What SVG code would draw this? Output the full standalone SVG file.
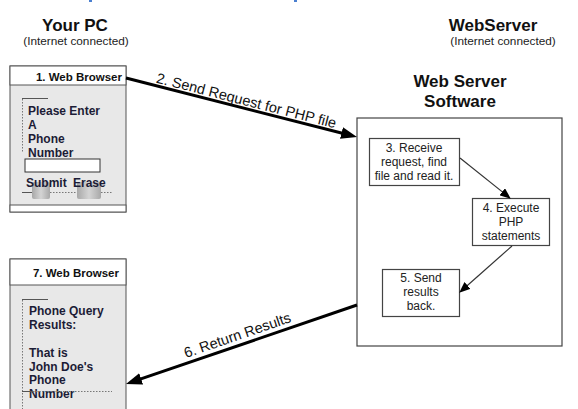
<svg xmlns="http://www.w3.org/2000/svg" width="578" height="409" viewBox="0 0 578 409">
<style>
.h{font-family:"Liberation Sans",Arial,sans-serif;font-weight:bold;fill:#111;}
.sub{font-family:"Liberation Sans",Arial,sans-serif;font-size:11.8px;fill:#222;}
.bt{font-family:"Liberation Sans",Arial,sans-serif;font-weight:bold;font-size:11.5px;fill:#111;}
.pg{font-family:"Liberation Sans",Arial,sans-serif;font-weight:bold;font-size:12px;fill:#1c1c36;}
.st{font-family:"Liberation Sans",Arial,sans-serif;font-size:12px;fill:#222;text-anchor:middle;}
.lbl{font-family:"Liberation Sans",Arial,sans-serif;font-size:14.5px;fill:#111;}
.frame{fill:#e8e8e8;stroke:#555;stroke-width:1;}
.strip{fill:#fff;stroke:#555;stroke-width:1;}
.dot{stroke:#777;stroke-width:1;stroke-dasharray:1.5 1.5;fill:none;}
.solid{stroke:#555;stroke-width:1;fill:none;}
.box{fill:#fff;stroke:#444;stroke-width:1.2;}
.thick{stroke:#000;stroke-width:3;fill:none;}
.thin{stroke:#333;stroke-width:1.2;fill:none;}
</style>
<defs>
<marker id="big" markerUnits="userSpaceOnUse" markerWidth="16" markerHeight="12" refX="8" refY="6" orient="auto">
<path d="M0,0 L16,6 L0,12 z" fill="#000"/>
</marker>
<marker id="small" markerUnits="userSpaceOnUse" markerWidth="11" markerHeight="9" refX="5" refY="4.5" orient="auto">
<path d="M0,0 L11,4.5 L0,9 z" fill="#000"/>
</marker>
<linearGradient id="btn" x1="0" y1="0" x2="1" y2="0">
<stop offset="0" stop-color="#a8a8a8"/>
<stop offset="0.5" stop-color="#d4d4d4"/>
<stop offset="1" stop-color="#a8a8a8"/>
</linearGradient>
</defs>
<rect width="578" height="409" fill="#fff"/>
<rect x="89" y="0" width="3" height="2" fill="#4a7fd0"/>
<rect x="294" y="0" width="3" height="2" fill="#4a7fd0"/>

<g id="title-pc">
<text class="h" x="75" y="31" font-size="17" text-anchor="middle">Your PC</text>
<text class="sub" x="76" y="45" text-anchor="middle">(Internet connected)</text>
</g>
<g id="title-server">
<text class="h" x="493" y="31" font-size="17" text-anchor="middle">WebServer</text>
<text class="sub" x="503" y="45" text-anchor="middle">(Internet connected)</text>
</g>

<g id="browser1">
<rect class="frame" x="10" y="66" width="116" height="146"/>
<rect class="strip" x="10" y="66" width="116" height="19"/>
<rect class="strip" x="10" y="205" width="116" height="7"/>
<text class="bt" x="122" y="81" text-anchor="end">1. Web Browser</text>
<line class="dot" x1="22.5" y1="99" x2="22.5" y2="152"/>
<line class="solid" x1="22" y1="98.5" x2="48" y2="98.5"/>
<text class="pg" x="28" y="115">Please Enter</text>
<text class="pg" x="28" y="129">A</text>
<text class="pg" x="28" y="143">Phone</text>
<text class="pg" x="28" y="157">Number</text>
<rect x="25" y="159" width="75" height="13" fill="#fff" stroke="#333" stroke-width="1"/>
<rect x="32" y="182" width="18" height="17" rx="2" fill="url(#btn)"/>
<rect x="77" y="182" width="24" height="17" rx="2" fill="url(#btn)"/>
<line class="solid" x1="22" y1="192.5" x2="32" y2="192.5"/>
<line class="dot" x1="50" y1="192.5" x2="77" y2="192.5" stroke-dasharray="2.5 1.5"/>
<line class="dot" x1="101" y1="192.5" x2="112" y2="192.5" stroke-dasharray="2.5 1.5"/>
<text class="pg" x="26" y="187">Submit</text>
<text class="pg" x="73" y="187">Erase</text>
</g>

<g id="browser7">
<rect class="frame" x="10" y="259" width="116" height="160"/>
<rect class="strip" x="10" y="259" width="116" height="26"/>
<text class="bt" x="119" y="277" text-anchor="end">7. Web Browser</text>
<line class="dot" x1="22.5" y1="300" x2="22.5" y2="409"/>
<line class="solid" x1="22" y1="299.5" x2="48" y2="299.5"/>
<text class="pg" x="29" y="315">Phone Query</text>
<text class="pg" x="29" y="329">Results:</text>
<text class="pg" x="29" y="357">That is</text>
<text class="pg" x="29" y="371">John Doe's</text>
<text class="pg" x="29" y="384">Phone</text>
<text class="pg" x="29" y="398">Number</text>
<line class="solid" x1="22" y1="391.5" x2="33" y2="391.5"/>
<line class="dot" x1="33" y1="391.5" x2="112" y2="391.5" stroke-dasharray="2.5 1.5"/>
</g>

<g id="server">
<text class="h" x="460" y="87" font-size="17" text-anchor="middle">Web Server</text>
<text class="h" x="460" y="107" font-size="17" text-anchor="middle">Software</text>
<rect x="357" y="118" width="205" height="228" fill="#fff" stroke="#444" stroke-width="1.2"/>
</g>
<g id="step3">
<rect class="box" x="369.5" y="138.5" width="90" height="47" stroke="#777"/>
<text class="st" x="414" y="152">3. Receive</text>
<text class="st" x="414" y="166">request, find</text>
<text class="st" x="414" y="180">file and read it.</text>
</g>
<g id="step4">
<rect class="box" x="472.5" y="198.5" width="77" height="47"/>
<text class="st" x="511" y="212">4. Execute</text>
<text class="st" x="511" y="226">PHP</text>
<text class="st" x="511" y="240">statements</text>
</g>
<g id="step5">
<rect class="box" x="382.5" y="269.5" width="77" height="47"/>
<text class="st" x="421" y="282">5. Send</text>
<text class="st" x="421" y="296">results</text>
<text class="st" x="421" y="310">back.</text>
</g>

<g id="connectors">
<line class="thick" x1="126" y1="78" x2="349.25" y2="135.03" marker-end="url(#big)"/>
<text class="lbl" transform="translate(155.5,82.5) rotate(14.3)">2. Send Request for PHP file</text>
<line class="thick" x1="357" y1="305" x2="133.57" y2="381.41" marker-end="url(#big)"/>
<text class="lbl" transform="translate(186,358) rotate(-18.9)">6. Return Results</text>
<line class="thin" x1="460" y1="158" x2="506.1" y2="194.9" marker-end="url(#small)"/>
<line class="thin" x1="512" y1="246" x2="463.7" y2="288.7" marker-end="url(#small)"/>
</g>
</svg>
